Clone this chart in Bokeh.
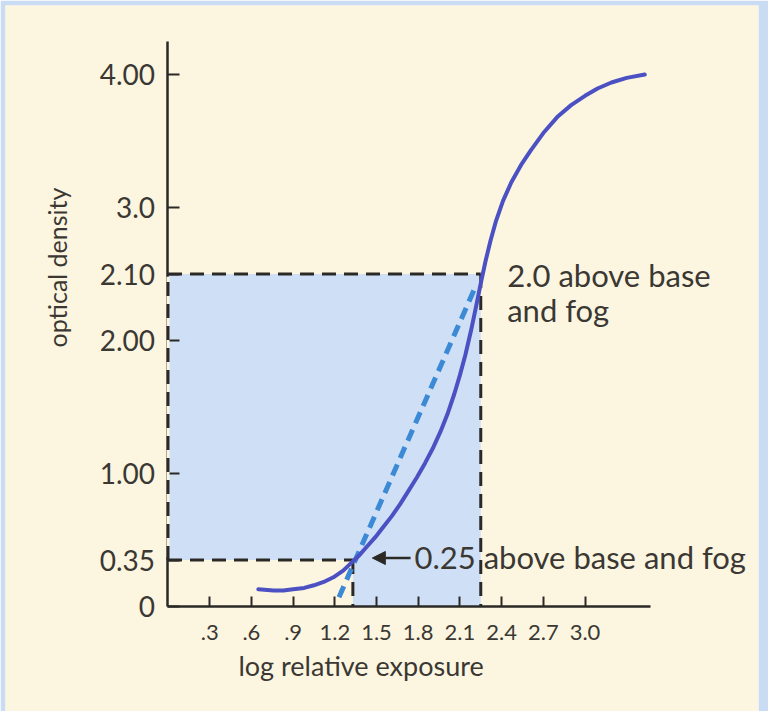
from bokeh.plotting import figure
from bokeh.models import Range1d, FixedTicker, Label, Arrow, NormalHead
from bokeh.embed import file_html
from bokeh.resources import INLINE

# ---- data ----
# characteristic (H&D) curve; y is in the drawn scale of the axis (the "2.10" tick sits at 2.5)
exposure = [0.65, 0.76, 0.83, 0.90, 0.98, 1.05, 1.12, 1.19, 1.26, 1.33, 1.38, 1.43,
            1.49, 1.55, 1.61, 1.67, 1.73, 1.79, 1.85, 1.91, 1.96, 2.01, 2.06, 2.10,
            2.14, 2.18, 2.215, 2.25, 2.285, 2.32, 2.36, 2.41, 2.47, 2.54, 2.61, 2.70,
            2.80, 2.90, 3.00, 3.09, 3.19, 3.30, 3.43]
density = [0.13, 0.12, 0.12, 0.13, 0.14, 0.16, 0.185, 0.22, 0.27, 0.34, 0.39, 0.45,
           0.52, 0.60, 0.68, 0.77, 0.87, 0.97, 1.08, 1.20, 1.315, 1.445, 1.60, 1.74,
           1.895, 2.075, 2.25, 2.43, 2.60, 2.75, 2.90, 3.05, 3.19, 3.32, 3.43, 3.56,
           3.68, 3.77, 3.84, 3.895, 3.94, 3.975, 4.00]

# average-gradient line (dashed blue)
gradient_x = [1.23, 2.21]
gradient_y = [0.07, 2.40]

# useful-density limits
low_density = 0.35      # 0.25 above base and fog
high_density = 2.5      # drawn position of the 2.10 tick (2.0 above base and fog)
low_exposure = 1.33
high_exposure = 2.25

x_ticks = [0.3, 0.6, 0.9, 1.2, 1.5, 1.8, 2.1, 2.4, 2.7, 3.0]
x_tick_labels = [".3", ".6", ".9", "1.2", "1.5", "1.8", "2.1", "2.4", "2.7", "3.0"]
y_ticks = [0, 0.35, 1, 2, 2.5, 3, 4]
y_tick_labels = ["0", "0.35", "1.00", "2.00", "2.10", "3.0", "4.00"]

# ---- styles ----
CREAM = "#fcf6e1"
FRAME_BLUE = "#c9dcf4"
SHADE = "#cfe0f6"
INK = "#2b2926"
TEXT = "#3b3833"
FONT = "Lato"

p = figure(width=768, height=711,
           x_range=Range1d(-1.169, 4.248), y_range=Range1d(-0.789, 4.519),
           output_backend="svg", toolbar_location=None,
           min_border_left=5, min_border_right=10,
           min_border_top=5, min_border_bottom=0)

p.background_fill_color = CREAM
p.border_fill_color = FRAME_BLUE
p.outline_line_color = None
p.xgrid.visible = False
p.ygrid.visible = False

# shaded useful-exposure region
shade_x = [0, low_exposure, low_exposure, high_exposure, high_exposure, 0]
shade_y = [low_density, low_density, 0, 0, high_density, high_density]
p.patch(shade_x, shade_y, fill_color=SHADE, line_color=None)

# dashed guide lines
p.segment(x0=[0, high_exposure, 0, low_exposure],
          y0=[high_density, high_density, low_density, low_density],
          x1=[high_exposure, high_exposure, low_exposure, low_exposure],
          y1=[high_density, 0, low_density, 0],
          line_color=INK, line_width=3, line_dash="14 8")

# left edge of the dashed box runs over the density axis: break the axis line there
p.segment(x0=[0], y0=[low_density + 0.02], x1=[0], y1=[high_density - 0.02],
          line_color=CREAM, line_width=3, level="overlay")
p.segment(x0=[0], y0=[low_density], x1=[0], y1=[high_density],
          line_color=INK, line_width=3, line_dash="14 8", level="overlay")

# gradient line
p.line(gradient_x, gradient_y, line_color="#3c8ad6", line_width=5, line_dash="12 7")

# characteristic curve
p.line(exposure, density, line_color="#4b50c2", line_width=4,
       line_cap="round", line_join="round")

# axes, drawn at the data origin
for ax in (p.xaxis, p.yaxis):
    ax.fixed_location = 0
    ax.axis_line_color = INK
    ax.axis_line_width = 2.5
    ax.major_tick_line_color = INK
    ax.major_tick_line_width = 2
    ax.major_tick_out = 0
    ax.minor_tick_line_color = None
    ax.major_label_text_color = TEXT
    ax.major_label_text_font = FONT

p.xaxis.bounds = (0, 3.47)
p.xaxis.ticker = FixedTicker(ticks=x_ticks)
p.xaxis.major_label_overrides = dict(zip(x_ticks, x_tick_labels))
p.xaxis.major_tick_in = 10
p.xaxis.major_label_standoff = 18
p.xaxis.major_label_text_font_size = "22px"

p.yaxis.bounds = (0, 4.25)
p.yaxis.ticker = FixedTicker(ticks=y_ticks)
p.yaxis.major_label_overrides = dict(zip(y_ticks, y_tick_labels))
p.yaxis.major_tick_in = 12
p.yaxis.major_label_standoff = 13
p.yaxis.major_label_text_font_size = "28px"

# axis titles
p.add_layout(Label(x=0.507, y=-0.444, text="log relative exposure",
                   text_font=FONT, text_font_size="27px", text_color=TEXT,
                   text_align="left", text_baseline="alphabetic"))
p.add_layout(Label(x=-0.80, y=2.549, text="optical density", angle=1.5708,
                   text_font=FONT, text_font_size="25px", text_color=TEXT,
                   text_align="center", text_baseline="alphabetic"))

# annotations
p.add_layout(Label(x=2.44, y=2.49, text="2.0 above base",
                   text_font=FONT, text_font_size="31px", text_color=TEXT,
                   text_baseline="alphabetic"))
p.add_layout(Label(x=2.44, y=2.23, text="and fog",
                   text_font=FONT, text_font_size="31px", text_color=TEXT,
                   text_baseline="alphabetic"))
p.add_layout(Label(x=1.773, y=0.376, text="0.25 above base and fog",
                   text_font=FONT, text_font_size="31px", text_color=TEXT,
                   text_baseline="alphabetic"))
p.add_layout(Arrow(end=NormalHead(size=13, fill_color=INK, line_color=INK),
                   x_start=1.745, y_start=0.365, x_end=1.47, y_end=0.365,
                   line_color=INK, line_width=2.5))

open("out.html", "w").write(file_html(p, INLINE))
